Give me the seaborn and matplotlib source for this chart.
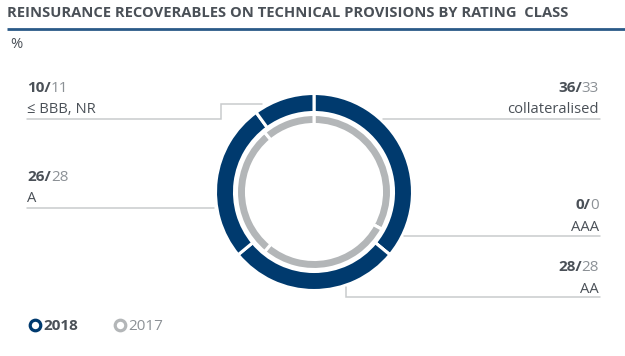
import matplotlib
matplotlib.use("Agg")
import matplotlib.pyplot as plt
import seaborn as sns

sns.set_theme(style="white")
plt.rcParams['font.family'] = ['Open Sans', 'DejaVu Sans']

# ---- data ----
categories = ["collateralised", "AAA", "AA", "A", "≤ BBB, NR"]
values_2018 = [36, 0, 28, 26, 10]
values_2017 = [33, 0, 28, 28, 11]
years = ["2018", "2017"]
title = "REINSURANCE RECOVERABLES ON TECHNICAL PROVISIONS BY RATING  CLASS"
unit = "%"

NAVY = "#003A6E"
GREY = "#B3B6B8"
LINE = "#C9CBCD"
DARK = "#4A5057"
LIGHT = "#8C9196"

W, H = 625, 356
fig = plt.figure(figsize=(W / 100, H / 100), dpi=100)
ax = fig.add_axes([0, 0, 1, 1])

def Y(y):  # pixel (top-down) to data
    return H - y

cx, cy = 314, Y(192)
EW = 2.2  # white separator width (pt) ~3px, eats 1.5px on each side of a ring
ax.pie(values_2018, radius=98.5, center=(cx, cy), startangle=90, counterclock=False,
       colors=[NAVY] * len(values_2018),
       wedgeprops=dict(width=19, edgecolor="white", linewidth=EW))
ax.pie(values_2017, radius=77.5, center=(cx, cy), startangle=90, counterclock=False,
       colors=[GREY] * len(values_2017),
       wedgeprops=dict(width=10, edgecolor="white", linewidth=EW))
ax.set_xlim(0, W)
ax.set_ylim(0, H)
ax.set_aspect("auto")
ax.axis("off")

fig.canvas.draw()
renderer = fig.canvas.get_renderer()
inv = ax.transData.inverted()

def text_width(t):
    bb = t.get_window_extent(renderer=renderer)
    p0 = inv.transform((bb.x0, bb.y0))
    p1 = inv.transform((bb.x1, bb.y0))
    return p1[0] - p0[0]

FS_NUM = 11
FS_LAB = 10.6

def pair_left(x, y, a, b):
    t1 = ax.text(x, Y(y), f"{a}/", fontsize=FS_NUM, fontweight="bold", color=DARK,
                 ha="left", va="baseline")
    w = text_width(t1)
    ax.text(x + w, Y(y), f"{b}", fontsize=FS_NUM, color=LIGHT, ha="left", va="baseline")

def pair_right(x, y, a, b):
    t2 = ax.text(x, Y(y), f"{b}", fontsize=FS_NUM, color=LIGHT, ha="right", va="baseline")
    w = text_width(t2)
    ax.text(x - w, Y(y), f"{a}/", fontsize=FS_NUM, fontweight="bold", color=DARK,
            ha="right", va="baseline")

# title and rule
ax.text(7, Y(17), title, fontsize=10.6, fontweight="bold", color=DARK, ha="left", va="baseline")
ax.plot([7, W], [Y(28.5), Y(28.5)], color="#2A5A88", lw=2.0, solid_capstyle="butt")
ax.text(10, Y(48), unit, fontsize=FS_LAB, color=DARK, ha="left", va="baseline")

# labels: (index, side, x, y_num, y_lab, line path)
specs = [
    (0, "right", 599, 92, 113, [(383, 119), (600, 119)]),
    (1, "right", 599, 209, 231, [(404, 236), (600, 236)]),
    (2, "right", 599, 271, 293, [(346, 287), (346, 297), (600, 297)]),
    (3, "left", 27, 181, 202, [(27, 208), (214, 208)]),
    (4, "left", 27, 92, 113, [(27, 119), (221, 119), (221, 104), (262, 104)]),
]
for i, side, x, yn, yl, path in specs:
    if side == "right":
        pair_right(x, yn, values_2018[i], values_2017[i])
        ax.text(x, Y(yl), categories[i], fontsize=FS_LAB, color=DARK, ha="right", va="baseline")
    else:
        pair_left(x, yn, values_2018[i], values_2017[i])
        ax.text(x, Y(yl), categories[i], fontsize=FS_LAB, color=DARK, ha="left", va="baseline")
    xs = [p[0] for p in path]
    ys = [Y(p[1]) for p in path]
    ax.plot(xs, ys, color=LINE, lw=1.1, solid_joinstyle="miter")

# legend
ax.plot([35], [Y(324.5)], marker="o", ms=7.6, mfc="white", mec=NAVY, mew=2.3)
ax.text(43, Y(330), years[0], fontsize=11, fontweight="bold", color=DARK, ha="left", va="baseline")
ax.plot([120], [Y(324.5)], marker="o", ms=7.6, mfc="white", mec=GREY, mew=2.3)
ax.text(128, Y(330), years[1], fontsize=11, color=LIGHT, ha="left", va="baseline")

fig.savefig("out.png", dpi=100)
